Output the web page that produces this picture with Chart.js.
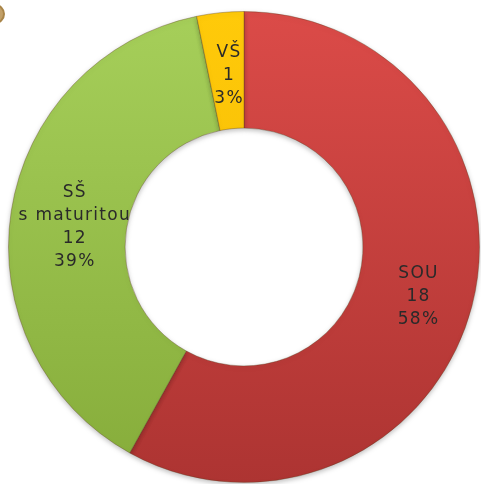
<!DOCTYPE html>
<html>
<head>
<meta charset="utf-8">
<script src="https://cdn.jsdelivr.net/npm/chart.js@4/dist/chart.umd.min.js"></script>
<style>
  html, body { margin: 0; padding: 0; background: #fff; }
  #wrap { position: relative; width: 481px; height: 484px; overflow: hidden; }
  #corner { position: absolute; left: -15px; top: 4px; width: 16px; height: 16px; border-radius: 50%;
            border: 2px solid #a98548; background: #c2a068; }
</style>
</head>
<body>
<div id="wrap">
  <canvas id="chart" width="481" height="484"></canvas>
  <div id="corner"></div>
</div>
<script>
const categories = ['SOU', 'SŠ\ns maturitou', 'VŠ'];
const counts = [18, 12, 1];
const percents = [58, 39, 3];
const topColors = ['#db4b48', '#a6cf5a', '#ffca0a'];
const bottomColors = ['#ad3432', '#86ac3a', '#f0b400'];

// labels drawn in the middle of each ring segment
const sliceLabels = {
    id: 'sliceLabels',
    afterDatasetsDraw(chart) {
        const ctx = chart.ctx;
        const meta = chart.getDatasetMeta(0);
        ctx.save();
        ctx.font = '17px "DejaVu Sans", sans-serif';
        ctx.letterSpacing = '1.3px';
        ctx.fillStyle = '#2a2a2a';
        ctx.textAlign = 'center';
        ctx.textBaseline = 'middle';
        meta.data.forEach((arc, i) => {
            const pos = arc.tooltipPosition();
            const lines = categories[i].split('\n').concat([String(counts[i]), percents[i] + '%']);
            const lh = 23;
            const dx = i === 1 ? 6 : 3;
            const dy = i === 1 ? 7 : 5;
            const y0 = pos.y - (lines.length - 1) * lh / 2 + dy;
            lines.forEach((line, k) => ctx.fillText(line, pos.x + dx, y0 + k * lh));
        });
        ctx.restore();
    }
};

const ringShadow = {
    id: 'ringShadow',
    beforeDatasetsDraw(chart) {
        const ctx = chart.ctx;
        ctx.save();
        ctx.shadowColor = 'rgba(0,0,0,0.25)';
        ctx.shadowBlur = 5;
        ctx.shadowOffsetY = 2;
    },
    afterDatasetsDraw(chart) {
        chart.ctx.restore();
    }
};

function fill(context) {
    const chart = context.chart;
    const area = chart.chartArea;
    if (!area) return topColors[context.dataIndex];
    const g = chart.ctx.createLinearGradient(0, area.top, 0, area.bottom);
    g.addColorStop(0, topColors[context.dataIndex]);
    g.addColorStop(1, bottomColors[context.dataIndex]);
    return g;
}

new Chart(document.getElementById('chart'), {
    type: 'doughnut',
    data: {
        labels: categories,
        datasets: [{
            data: counts,
            backgroundColor: fill,
            borderColor: 'rgba(90,60,30,0.35)',
            borderWidth: 1
        }]
    },
    options: {
        responsive: false,
        animation: false,
        cutout: '50.5%',
        layout: { padding: { left: 8, right: 1, top: 11, bottom: 1 } },
        plugins: {
            legend: { display: false },
            tooltip: { enabled: false }
        }
    },
    plugins: [ringShadow, sliceLabels]
});
</script>
</body>
</html>
